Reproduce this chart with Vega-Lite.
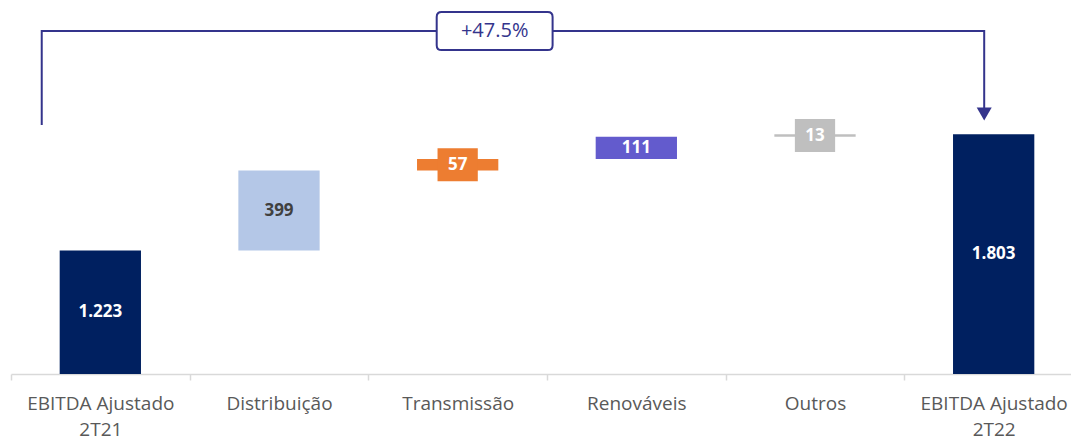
{
  "$schema": "https://vega.github.io/schema/vega-lite/v6.json",
  "width": 1072,
  "height": 374,
  "autosize": {"type": "none"},
  "padding": {"left": 11, "top": 0, "right": 0, "bottom": 62},
  "background": "white",
  "config": {"view": {"stroke": null}, "font": "Open Sans"},
  "datasets": {
    "wf": [
      {"cat": "EBITDA Ajustado 2T21", "start": 0, "end": 1223, "label": "1.223"},
      {"cat": "Distribuição", "start": 1223, "end": 1622, "label": "399"},
      {"cat": "Transmissão", "start": 1622, "end": 1679, "label": "57"},
      {"cat": "Renováveis", "start": 1679, "end": 1790, "label": "111"},
      {"cat": "Outros", "start": 1790, "end": 1803, "label": "13"},
      {"cat": "EBITDA Ajustado 2T22", "start": 0, "end": 1803, "label": "1.803"}
    ],
    "bracket": [
      {"bx": 0.172, "by": 1849, "o": 1},
      {"bx": 0.172, "by": 2317, "o": 2},
      {"bx": 5.447, "by": 2317, "o": 3},
      {"bx": 5.447, "by": 1904, "o": 4}
    ],
    "arrow": [{"ax": 5.447, "ay": 1904}],
    "note": [{"nx": 2.707, "ny": 2317, "txt": "+47.5%"}]
  },
  "layer": [
    {
      "data": {"name": "wf"},
      "layer": [
        {
          "mark": {"type": "bar", "clip": true},
          "encoding": {
            "x": {
              "field": "cat", "type": "nominal", "sort": null,
              "scale": {"paddingInner": 0.545, "paddingOuter": 0.2725},
              "axis": {
                "title": null, "labelAngle": 0,
                "labelExpr": "datum.label == 'EBITDA Ajustado 2T21' ? ['EBITDA Ajustado','2T21'] : datum.label == 'EBITDA Ajustado 2T22' ? ['EBITDA Ajustado','2T22'] : datum.label",
                "labelFont": "Open Sans", "labelFontSize": 19, "labelColor": "#595959",
                "labelPadding": 14, "labelLineHeight": 26, "labelLimit": 300,
                "domainColor": "#D9D9D9", "domainWidth": 1.5,
                "tickColor": "#D9D9D9", "tickWidth": 1.5, "tickSize": 6,
                "tickOffset": -89.33, "labelOffset": 89.33
              }
            },
            "y": {"field": "start", "type": "quantitative", "scale": {"domain": [608, 2472], "nice": false, "zero": false}, "axis": null},
            "y2": {"field": "end"},
            "color": {
              "field": "cat", "type": "nominal", "legend": null,
              "scale": {
                "domain": ["EBITDA Ajustado 2T21", "Distribuição", "Transmissão", "Renováveis", "Outros", "EBITDA Ajustado 2T22"],
                "range": ["#002060", "#B4C7E7", "#ED7D31", "#635BCD", "#BFBFBF", "#002060"]
              }
            }
          }
        },
        {
          "transform": [
            {"filter": "abs(datum.end - datum.start) < 80"},
            {"calculate": "(datum.start + datum.end) / 2", "as": "mid"}
          ],
          "mark": {"type": "point", "filled": true, "opacity": 1, "shape": "M-1.22,-1H1.22V1H-1.22Z", "size": 1089},
          "encoding": {
            "x": {"field": "cat", "type": "nominal", "sort": null},
            "y": {"field": "mid", "type": "quantitative", "axis": null},
            "color": {"field": "cat", "type": "nominal", "legend": null}
          }
        },
        {
          "transform": [
            {"calculate": "(max(datum.start, 608) + datum.end) / 2", "as": "mid"}
          ],
          "mark": {"type": "text", "font": "Open Sans", "fontWeight": "bold", "fontSize": 17, "baseline": "middle", "align": "center"},
          "encoding": {
            "x": {"field": "cat", "type": "nominal", "sort": null},
            "y": {"field": "mid", "type": "quantitative", "axis": null},
            "text": {"field": "label"},
            "color": {"condition": {"test": "datum.cat == 'Distribuição'", "value": "#404040"}, "value": "white"}
          }
        }
      ]
    },
    {
      "layer": [
        {
          "data": {"name": "bracket"},
          "mark": {"type": "line", "stroke": "#34348C", "strokeWidth": 2},
          "encoding": {
            "x": {"field": "bx", "type": "quantitative", "scale": {"domain": [0, 6], "nice": false, "zero": false}, "axis": null},
            "y": {"field": "by", "type": "quantitative", "axis": null},
            "order": {"field": "o"}
          }
        },
        {
          "data": {"name": "arrow"},
          "mark": {"type": "point", "shape": "triangle-down", "filled": true, "size": 225, "color": "#34348C", "opacity": 1},
          "encoding": {
            "x": {"field": "ax", "type": "quantitative", "scale": {"domain": [0, 6], "nice": false, "zero": false}, "axis": null},
            "y": {"field": "ay", "type": "quantitative", "axis": null}
          }
        },
        {
          "data": {"name": "note"},
          "mark": {"type": "point", "shape": "M-2.79,-1H2.79Q3.05,-1 3.05,-0.74V0.74Q3.05,1 2.79,1H-2.79Q-3.05,1 -3.05,0.74V-0.74Q-3.05,-1 -2.79,-1Z", "size": 1444, "filled": true, "fill": "white", "stroke": "#34348C", "strokeWidth": 2, "opacity": 1},
          "encoding": {
            "x": {"field": "nx", "type": "quantitative", "scale": {"domain": [0, 6], "nice": false, "zero": false}, "axis": null},
            "y": {"field": "ny", "type": "quantitative", "axis": null}
          }
        },
        {
          "data": {"name": "note"},
          "mark": {"type": "text", "font": "Open Sans", "fontSize": 20, "color": "#34348C", "baseline": "middle", "align": "center"},
          "encoding": {
            "x": {"field": "nx", "type": "quantitative", "scale": {"domain": [0, 6], "nice": false, "zero": false}, "axis": null},
            "y": {"field": "ny", "type": "quantitative", "axis": null},
            "text": {"field": "txt"}
          }
        }
      ]
    }
  ],
  "resolve": {"scale": {"x": "independent"}}
}
